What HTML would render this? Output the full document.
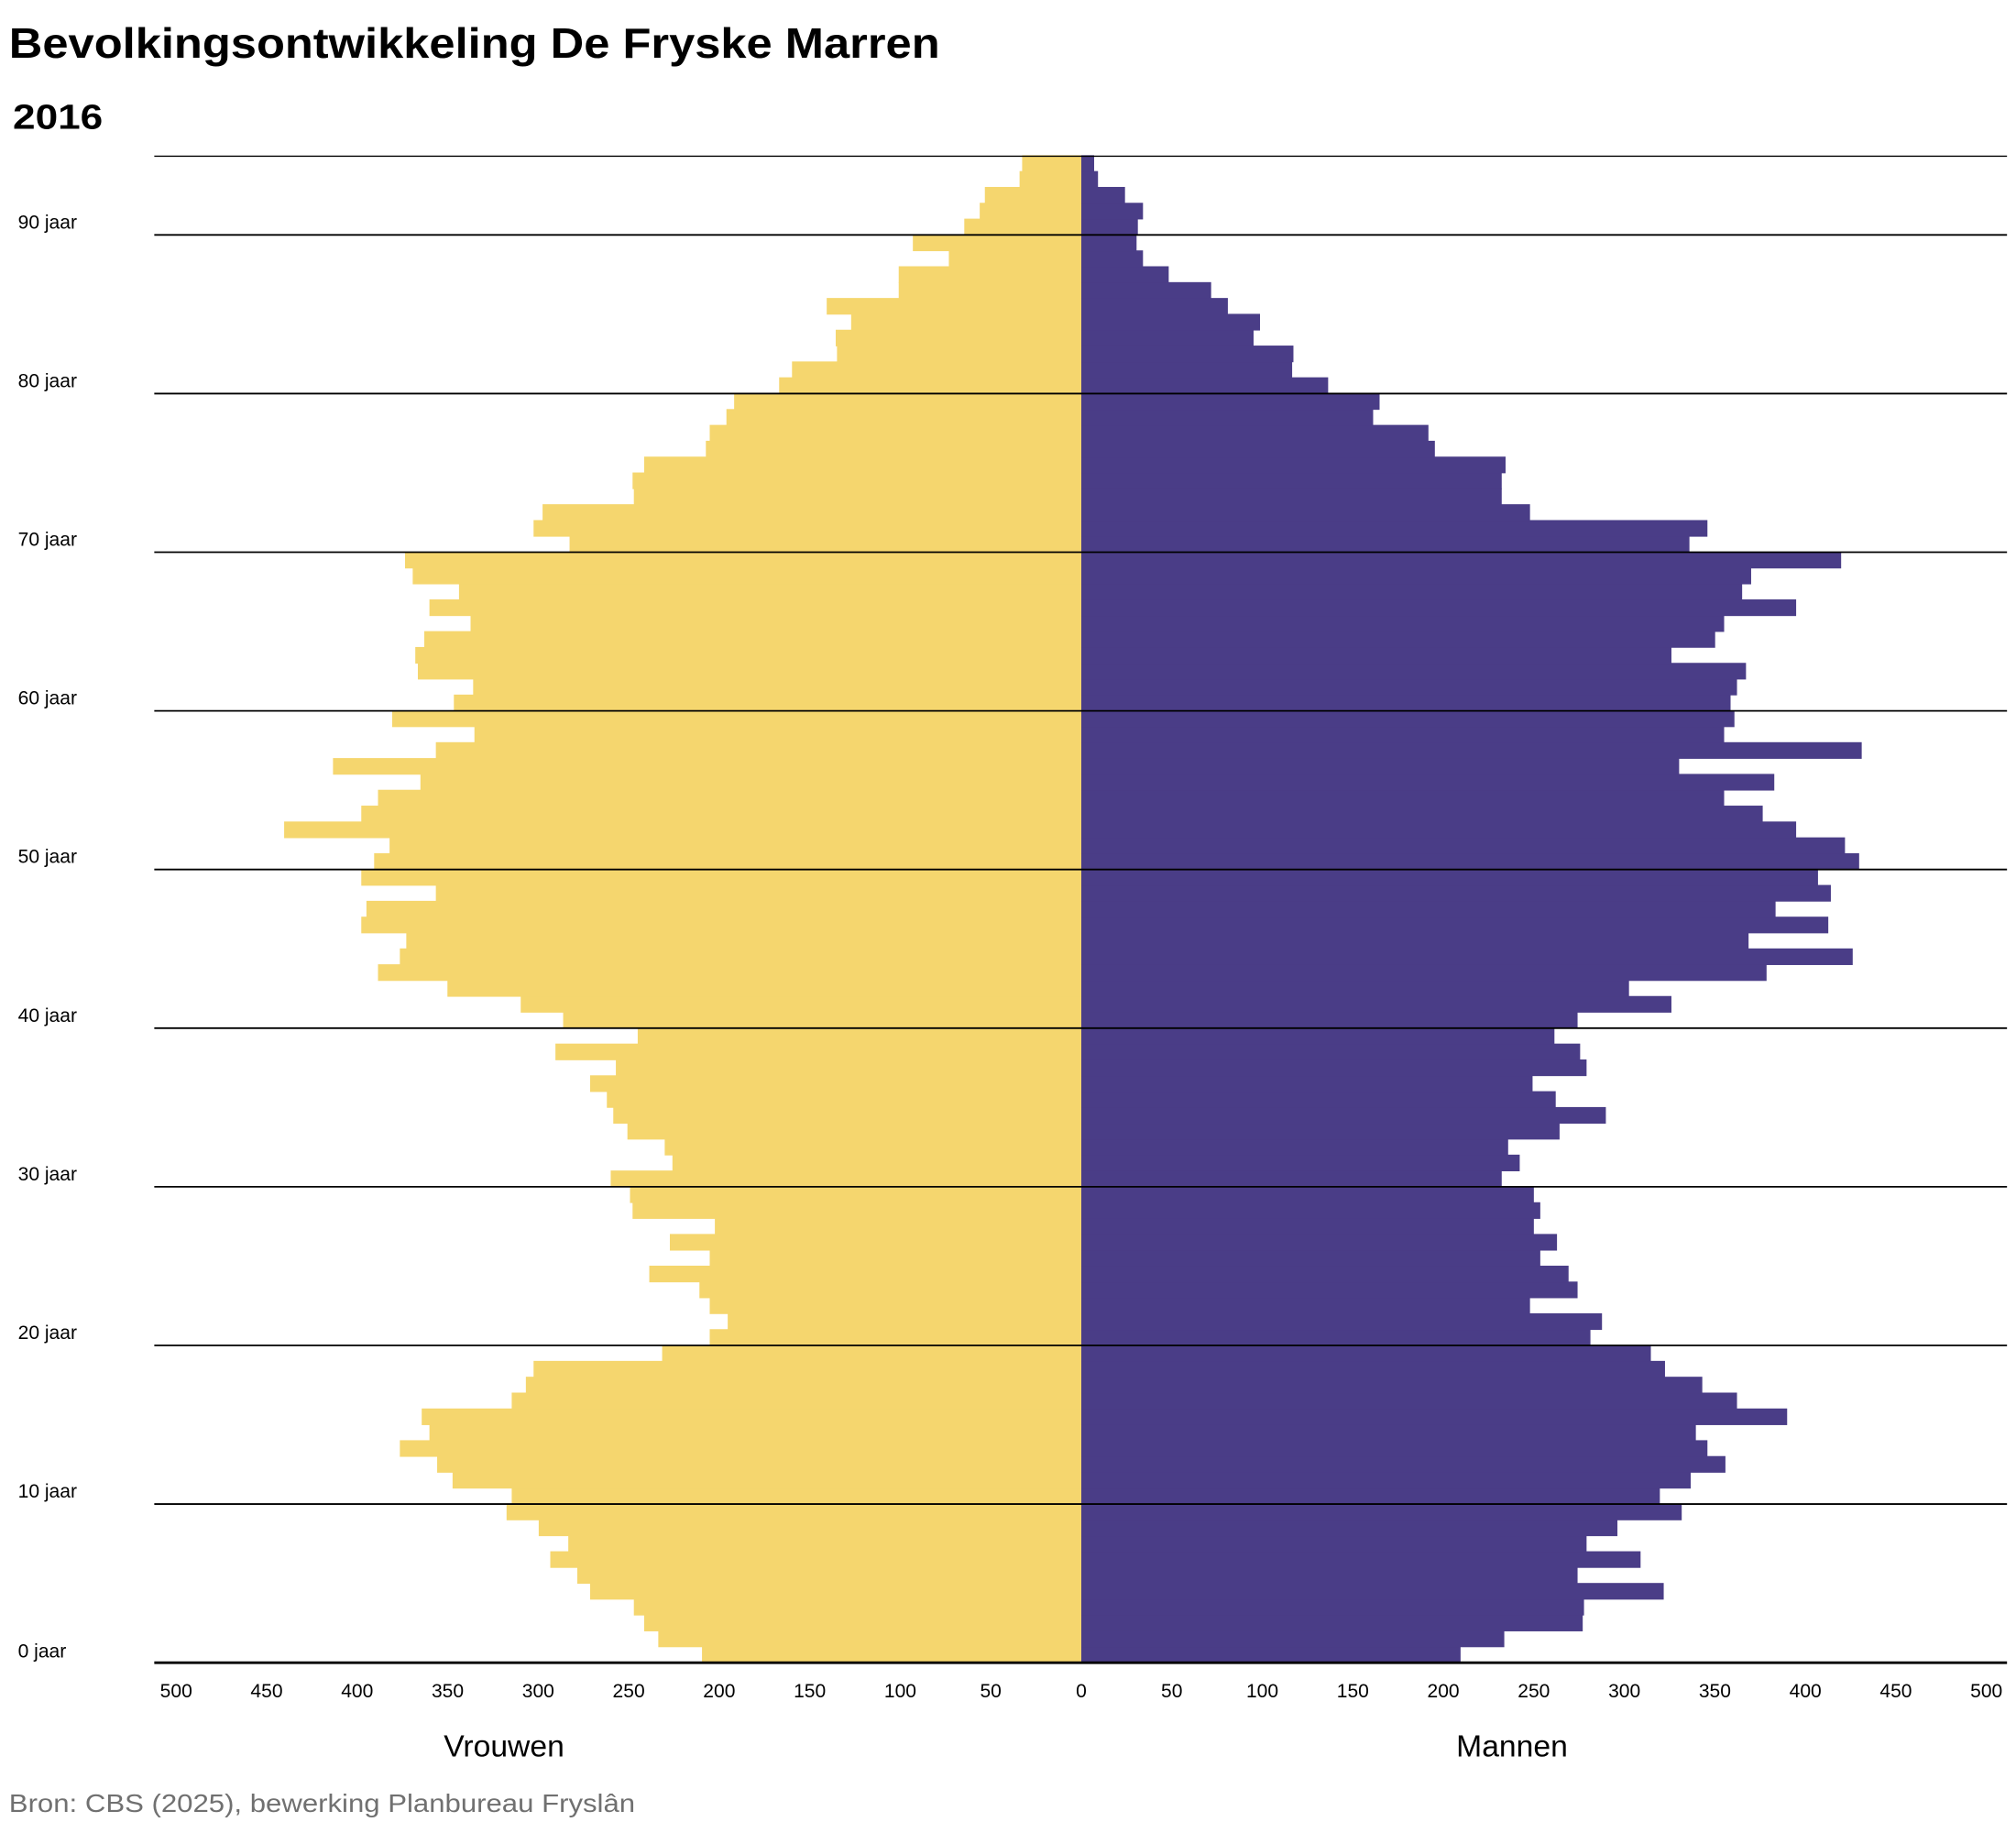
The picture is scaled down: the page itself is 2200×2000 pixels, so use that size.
<!DOCTYPE html>
<html><head><meta charset="utf-8"><style>
html,body{margin:0;padding:0;background:#fff;}
svg{display:block;}
text{font-family:"Liberation Sans",sans-serif;}
</style></head><body>
<svg id="s" width="2200" height="2000" viewBox="0 0 1568 1425.45" preserveAspectRatio="none" xmlns="http://www.w3.org/2000/svg">
<text x="7" y="45" font-size="33" font-weight="bold" textLength="724" lengthAdjust="spacingAndGlyphs">Bevolkingsontwikkeling De Fryske Marren</text>
<text x="10" y="100" font-size="27" font-weight="bold" textLength="70" lengthAdjust="spacingAndGlyphs">2016</text>
<g id="bars"></g>
<g id="lines"></g>
<text x="392" y="1366" font-size="24" text-anchor="middle">Vrouwen</text>
<text x="1176" y="1366" font-size="24" text-anchor="middle">Mannen</text>
<text x="7" y="1409" font-size="20" fill="#707070" textLength="487" lengthAdjust="spacingAndGlyphs">Bron: CBS (2025), bewerking Planbureau Fryslân</text>
</svg>
<script>
var W=[546,512,501,493,459,449,428,442,419,394,398,352,340,311,334,328,398,409,415,515,552,566,552,544,505,552,521,556,492,490,475,523,517,488,477,472,459,479,432,496,438,405,348,294,311,316,281,285,339,281,291,303,221,281,294,327,259,339,369,305,353,368,325,323,330,366,334,357,321,315,443,415,422,493,492,501,549,552,565,571,606,616,651,650,662,643,699,699,738,710,750,762,766,793,795];
var M=[1136,1170,1231,1232,1294,1227,1276,1234,1258,1308,1291,1315,1342,1328,1319,1390,1351,1324,1295,1284,1237,1246,1190,1227,1220,1198,1211,1193,1198,1193,1168,1182,1173,1213,1249,1210,1192,1234,1229,1209,1227,1300,1267,1374,1441,1360,1422,1381,1424,1414,1446,1435,1397,1371,1341,1380,1306,1448,1341,1349,1346,1351,1358,1300,1334,1341,1397,1355,1362,1432,1314,1328,1190,1168,1168,1171,1116,1111,1068,1073,1033,1005,1006,975,980,955,942,909,889,884,885,889,875,854,851];
var ns="http://www.w3.org/2000/svg",Z=841,B=1293,H=(1293-121)/95;
var g=document.getElementById('bars'),l=document.getElementById('lines'),s=document.getElementById('s');
function el(p,t,a){var e=document.createElementNS(ns,t);for(var k in a)e.setAttribute(k,a[k]);p.appendChild(e);return e;}
for(var i=0;i<95;i++){var y=B-(i+1)*H;
el(g,'rect',{x:W[i],y:y-0.3,width:Z-W[i],height:H+0.6,fill:'#f5d66e'});
el(g,'rect',{x:Z,y:y-0.3,width:M[i]-Z,height:H+0.6,fill:'#4a3d87'});}
el(l,'line',{x1:120,x2:1561,y1:121.5,y2:121.5,stroke:'#000','stroke-width':1});
for(var a=10;a<=90;a+=10){var y=B-a*H;
el(l,'line',{x1:120,x2:1561,y1:y,y2:y,stroke:'#000','stroke-width':1.3});
var t=el(s,'text',{x:14,y:y-5,'font-size':15});t.textContent=a+' jaar';}
var t=el(s,'text',{x:14,y:1289,'font-size':15});t.textContent='0 jaar';
el(l,'line',{x1:120,x2:1561,y1:B,y2:B,stroke:'#000','stroke-width':2});
for(var v=-500;v<=500;v+=50){var x=Z+v*1.408;var t=el(s,'text',{x:x,y:1320,'font-size':15,'text-anchor':'middle'});t.textContent=Math.abs(v);}
</script>
</body></html>
